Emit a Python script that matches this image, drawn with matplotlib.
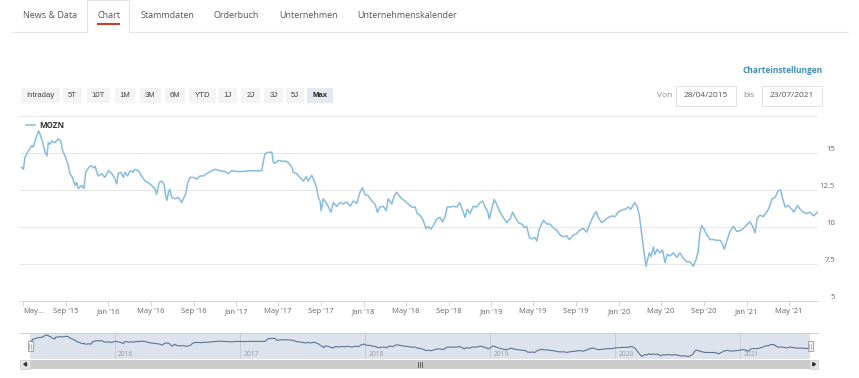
import pandas as pd
import matplotlib
matplotlib.use('Agg')
import matplotlib.pyplot as plt
from matplotlib.patches import Rectangle, Polygon
from matplotlib.transforms import offset_copy

plt.rcParams['font.family'] = ['Open Sans', 'DejaVu Sans']

# MOZN closing prices (days after 28/04/2015)
start_date = '2015-04-28'
end_date = '2021-07-23'
day_offsets = [
    0, 5, 9, 19, 29, 33, 40, 48, 52, 59,
    67, 72, 76, 81, 86, 95, 105, 112, 117, 124,
    132, 138, 145, 153, 157, 162, 172, 178, 183, 191,
    198, 205, 210, 215, 219, 229, 238, 248, 258, 267,
    272, 276, 284, 291, 296, 303, 310, 319, 324, 334,
    343, 353, 362, 372, 382, 386, 393, 401, 407, 412,
    416, 420, 424, 429, 439, 448, 458, 462, 469, 475,
    482, 491, 501, 510, 520, 529, 544, 553, 568, 582,
    591, 601, 615, 630, 649, 668, 687, 691, 696, 706,
    716, 720, 725, 734, 744, 754, 763, 773, 777, 787,
    796, 806, 814, 820, 830, 837, 844, 849, 854, 857,
    863, 871, 877, 885, 892, 901, 911, 920, 930, 940,
    949, 959, 968, 975, 982, 992, 1002, 1011, 1018, 1025,
    1035, 1043, 1049, 1059, 1066, 1073, 1081, 1088, 1097, 1106,
    1116, 1126, 1132, 1140, 1149, 1157, 1164, 1171, 1178, 1188,
    1197, 1204, 1211, 1218, 1226, 1235, 1245, 1254, 1262, 1269,
    1275, 1283, 1292, 1302, 1312, 1319, 1326, 1333, 1338, 1345,
    1352, 1359, 1369, 1378, 1388, 1398, 1405, 1412, 1421, 1431,
    1440, 1445, 1453, 1460, 1469, 1474, 1481, 1488, 1493, 1503,
    1512, 1521, 1531, 1541, 1550, 1560, 1567, 1579, 1588, 1598,
    1607, 1617, 1626, 1636, 1644, 1650, 1660, 1669, 1679, 1689,
    1698, 1707, 1717, 1727, 1736, 1743, 1749, 1755, 1762, 1768,
    1772, 1777, 1782, 1787, 1792, 1796, 1801, 1808, 1812, 1819,
    1827, 1834, 1841, 1848, 1855, 1865, 1875, 1884, 1893, 1903,
    1913, 1922, 1930, 1936, 1941, 1946, 1953, 1960, 1970, 1979,
    1989, 1999, 2006, 2011, 2018, 2027, 2037, 2046, 2056, 2065,
    2075, 2084, 2092, 2099, 2105, 2113, 2122, 2132, 2140, 2147,
    2156, 2165, 2172, 2178, 2185, 2194, 2204, 2210, 2220, 2228,
    2237, 2247, 2256, 2266, 2278]
prices = [
    14.03, 13.9, 14.7, 15.15, 15.5, 15.4, 15.95, 16.5, 16.3, 15.8,
    15.05, 14.8, 15.7, 15.6, 15.8, 15.7, 15.95, 15.8, 15.15, 14.8,
    14.25, 13.6, 13.35, 12.8, 13.0, 12.6, 12.8, 12.6, 13.7, 14.0,
    14.15, 14.0, 14.1, 13.7, 13.45, 13.6, 13.35, 13.8, 13.6, 13.25,
    12.9, 13.6, 13.7, 13.35, 13.7, 13.45, 13.8, 13.7, 13.9, 13.8,
    13.45, 13.1, 13.0, 12.8, 12.55, 12.2, 13.0, 13.1, 12.9, 12.1,
    11.8, 12.35, 12.55, 12.0, 11.9, 12.0, 11.65, 11.9, 12.2, 13.0,
    13.35, 13.35, 13.25, 13.45, 13.45, 13.6, 13.8, 13.9, 13.8, 13.75,
    13.6, 13.8, 13.75, 13.75, 13.8, 13.8, 13.8, 14.35, 14.95, 15.05,
    15.05, 14.35, 14.3, 14.5, 14.45, 14.45, 14.35, 14.05, 13.7, 13.6,
    13.35, 13.1, 13.4, 13.1, 13.5, 13.1, 12.65, 12.0, 11.75, 11.1,
    11.9, 11.65, 11.4, 11.0, 11.65, 11.4, 11.65, 11.55, 11.7, 11.4,
    11.75, 11.6, 12.35, 12.65, 12.2, 12.1, 11.75, 11.55, 11.0, 11.35,
    11.4, 11.1, 11.9, 11.55, 12.1, 12.35, 12.1, 11.9, 11.75, 11.55,
    11.35, 11.35, 10.9, 10.8, 10.45, 9.9, 10.05, 9.85, 10.1, 10.55,
    10.65, 10.35, 10.65, 11.35, 11.35, 11.4, 11.35, 11.65, 11.1, 10.65,
    11.2, 10.9, 11.4, 11.35, 11.65, 11.75, 11.35, 11.1, 10.55, 11.2,
    11.85, 11.55, 11.0, 10.65, 10.3, 10.55, 11.0, 10.65, 10.3, 10.2,
    9.95, 10.05, 9.3, 9.2, 9.3, 9.05, 9.85, 10.2, 10.45, 10.2,
    10.2, 9.95, 9.8, 9.45, 9.35, 9.4, 9.15, 9.45, 9.55, 9.8,
    9.9, 9.65, 10.2, 10.75, 11.05, 10.65, 10.3, 10.45, 10.65, 10.75,
    10.7, 11.0, 11.15, 11.2, 11.35, 11.2, 11.45, 11.65, 11.35, 10.75,
    9.95, 9.05, 8.15, 7.35, 7.9, 8.25, 8.0, 8.65, 8.15, 8.5,
    8.25, 8.45, 7.6, 8.15, 8.05, 8.25, 7.95, 8.25, 7.9, 7.65,
    7.65, 7.35, 7.8, 8.35, 9.6, 10.1, 9.85, 9.5, 9.15, 9.15,
    9.1, 9.1, 8.85, 8.5, 9.05, 9.7, 10.05, 9.7, 9.75, 9.9,
    10.15, 10.35, 10.05, 9.6, 10.6, 10.8, 10.7, 11.0, 11.35, 11.9,
    12.0, 12.45, 12.5, 11.9, 11.35, 11.45, 11.2, 11.0, 11.45, 11.2,
    11.0, 10.9, 11.0, 10.75, 11.0]

x_tick_dates = ['2015-05-01', '2015-09-01', '2016-01-01', '2016-05-01', '2016-09-01',
                '2017-01-01', '2017-05-01', '2017-09-01', '2018-01-01', '2018-05-01',
                '2018-09-01', '2019-01-01', '2019-05-01', '2019-09-01', '2020-01-01',
                '2020-05-01', '2020-09-01', '2021-01-01', '2021-05-01']
x_tick_labels = ['May...', "Sep '15", "Jan '16", "May '16", "Sep '16", "Jan '17", "May '17",
                 "Sep '17", "Jan '18", "May '18", "Sep '18", "Jan '19", "May '19", "Sep '19",
                 "Jan '20", "May '20", "Sep '20", "Jan '21", "May '21"]
y_ticks = [5, 7.5, 10, 12.5, 15]
y_tick_labels = ['5', '7.5', '10', '12.5', '15']
nav_years = ['2016', '2017', '2018', '2019', '2020', '2021']

tabs = ['News & Data', 'Chart', 'Stammdaten', 'Orderbuch', 'Unternehmen', 'Unternehmenskalender']
range_buttons = ['Intraday', '5T', '10T', '1M', '3M', '6M', 'YTD', '1J', '2J', '3J', '5J', 'Max']
date_from = '28/04/2015'
date_to = '23/07/2021'

W, H = 859, 378
line_col = '#86bcdf'


def frac(x0, y0, x1, y1):
    # pixel box (top-left origin) -> figure fraction rect
    return [x0 / W, 1 - y1 / H, (x1 - x0) / W, (y1 - y0) / H]


fig = plt.figure(figsize=(W / 100, H / 100), dpi=100)
dates = pd.Timestamp(start_date) + pd.to_timedelta(day_offsets, unit='D')
t0 = pd.Timestamp(start_date)
t1 = pd.Timestamp(end_date)

# Main chart
ax = fig.add_axes(frac(20, 116, 818, 301))
ax.plot(dates, prices, color=line_col, lw=1.1, zorder=3)
ax.set_xlim(t0 - pd.Timedelta(days=5), t1 + pd.Timedelta(days=1))
ax.set_ylim(5, 17.5)
for v in [7.5, 10, 12.5, 15, 17.5]:
    ax.axhline(v, color='#e6e6e6', lw=0.7, zorder=1)
for s in ['top', 'left', 'right']:
    ax.spines[s].set_visible(False)
ax.spines['bottom'].set_color('#d5d5d5')
ax.spines['bottom'].set_linewidth(0.7)
ax.set_yticks(y_ticks)
ax.set_yticklabels(y_tick_labels)
ax.yaxis.tick_right()
ax.tick_params(axis='y', length=0, pad=12.2, labelsize=5.5, labelcolor='#666666')
for lab in ax.get_yticklabels():
    lab.set_ha('right')
    lab.set_va('bottom')
ax.set_xticks(pd.to_datetime(x_tick_dates))
ax.set_xticklabels(x_tick_labels)
ax.tick_params(axis='x', length=3.6, width=0.7, color='#d5d5d5', pad=1.5,
               labelsize=5.5, labelcolor='#666666')
ax.get_xticklabels()[0].set_ha('left')
ax.legend([plt.Line2D([], [], color=line_col, lw=1.1)], ['MOZN'], loc='center left',
          bbox_to_anchor=(26 / W, 1 - 125.7 / H), bbox_transform=fig.transFigure,
          frameon=False, borderpad=0, borderaxespad=0, handlelength=1.15,
          handletextpad=0.55, prop={'weight': 'bold', 'size': 5.8}, labelcolor='#333333')

# Navigator
nav = fig.add_axes(frac(30, 333, 810, 359))
nav.set_facecolor('#dde3ec')
nav.plot(dates, prices, color='#5d7391', lw=0.8, zorder=3)
nav.set_xlim(t0, t1)
nav.set_ylim(6.35, 17.35)
nav.set_xticks([])
nav.set_yticks([])
for s in nav.spines.values():
    s.set_visible(False)
yr_tr = offset_copy(nav.get_xaxis_transform(), fig=fig, x=3, y=0, units='dots')
for yr in nav_years:
    d = pd.Timestamp(yr + '-01-01')
    nav.axvline(d, color='#c3cad6', lw=0.6, zorder=1)
    nav.text(d, 0.19, yr, transform=yr_tr, fontsize=4.8, color='#9a9a9a', va='center', ha='left')

# Page furniture, drawn in pixel space on top
ov = fig.add_axes([0, 0, 1, 1], zorder=10)
ov.set_xlim(0, W)
ov.set_ylim(H, 0)
ov.axis('off')
ov.patch.set_alpha(0)

# tabs
tab_x = [23, 97, 141, 214, 279, 357]
for name, x in zip(tabs, tab_x):
    ov.text(x, 15, name, fontsize=6.5, color='#555555', va='center', ha='left')
ov.plot([12, 87, 87, 129, 129, 848], [32, 32, 0, 0, 32, 32], color='#e6e6e6', lw=0.8)
ov.plot([97, 119.5], [23.5, 23.5], color='#cc3d2e', lw=1.5, solid_capstyle='butt')

# range buttons
btn_x = [(21, 60), (63, 82), (87, 110), (115, 135), (140, 161), (165, 185),
         (189, 216), (218, 237), (241, 260), (264, 283), (286, 304), (307, 333)]
for name, (x0, x1) in zip(range_buttons, btn_x):
    sel = name == 'Max'
    ov.add_patch(Rectangle((x0, 87.7), x1 - x0, 15, facecolor='#e4e9f2' if sel else '#f4f4f4',
                           edgecolor='none'))
    ov.text((x0 + x1) / 2, 95.5, name, fontsize=5.6, family=['Liberation Sans', 'DejaVu Sans'],
            color='#222222' if sel else '#444444', weight='bold' if sel else 'normal',
            va='center', ha='center')

# date inputs
ov.text(822.5, 70.5, 'Charteinstellungen', fontsize=6, weight='bold', color='#3f8db5',
        va='center', ha='right')
ov.text(657, 95.5, 'Von', fontsize=6, color='#888888', va='center', ha='left')
ov.text(743, 95.5, 'bis', fontsize=6, color='#888888', va='center', ha='left')
for (x0, x1), txt in zip([(676, 736), (762, 822)], [date_from, date_to]):
    ov.add_patch(Rectangle((x0, 85.5), x1 - x0, 20, facecolor='white', edgecolor='#e2e2e2', lw=0.7))
    ov.text((x0 + x1) / 2, 95.5, txt, fontsize=6, color='#555555', va='center', ha='center')

# navigator outline and handles
ov.plot([20, 818], [333, 333], color='#cfcfcf', lw=0.7)
for hx in [30, 810]:
    ov.add_patch(Rectangle((hx - 2.5, 341), 5, 10, facecolor='#f2f2f2', edgecolor='#999999', lw=0.6))
    ov.plot([hx - 0.8, hx - 0.8], [343.5, 348.5], color='#999999', lw=0.4)
    ov.plot([hx + 0.8, hx + 0.8], [343.5, 348.5], color='#999999', lw=0.4)

# scrollbar
ov.add_patch(Rectangle((20, 360), 798, 8.5, facecolor='#f2f2f2', edgecolor='none'))
ov.add_patch(Rectangle((30, 360), 780, 8.5, facecolor='#cccccc', edgecolor='none'))
ov.add_patch(Rectangle((20, 360), 10, 8.5, facecolor='#e6e6e6', edgecolor='#cccccc', lw=0.5))
ov.add_patch(Rectangle((810, 360), 8, 8.5, facecolor='#e6e6e6', edgecolor='#cccccc', lw=0.5))
ov.add_patch(Polygon([(26.5, 362.5), (26.5, 366), (23.8, 364.25)], closed=True, color='#333333'))
ov.add_patch(Polygon([(812.8, 362.5), (812.8, 366), (815.5, 364.25)], closed=True, color='#333333'))
for gx in [417.5, 419.5, 421.5]:
    ov.plot([gx, gx], [362, 366.5], color='#333333', lw=0.5)

fig.savefig('out.png', dpi=100)
